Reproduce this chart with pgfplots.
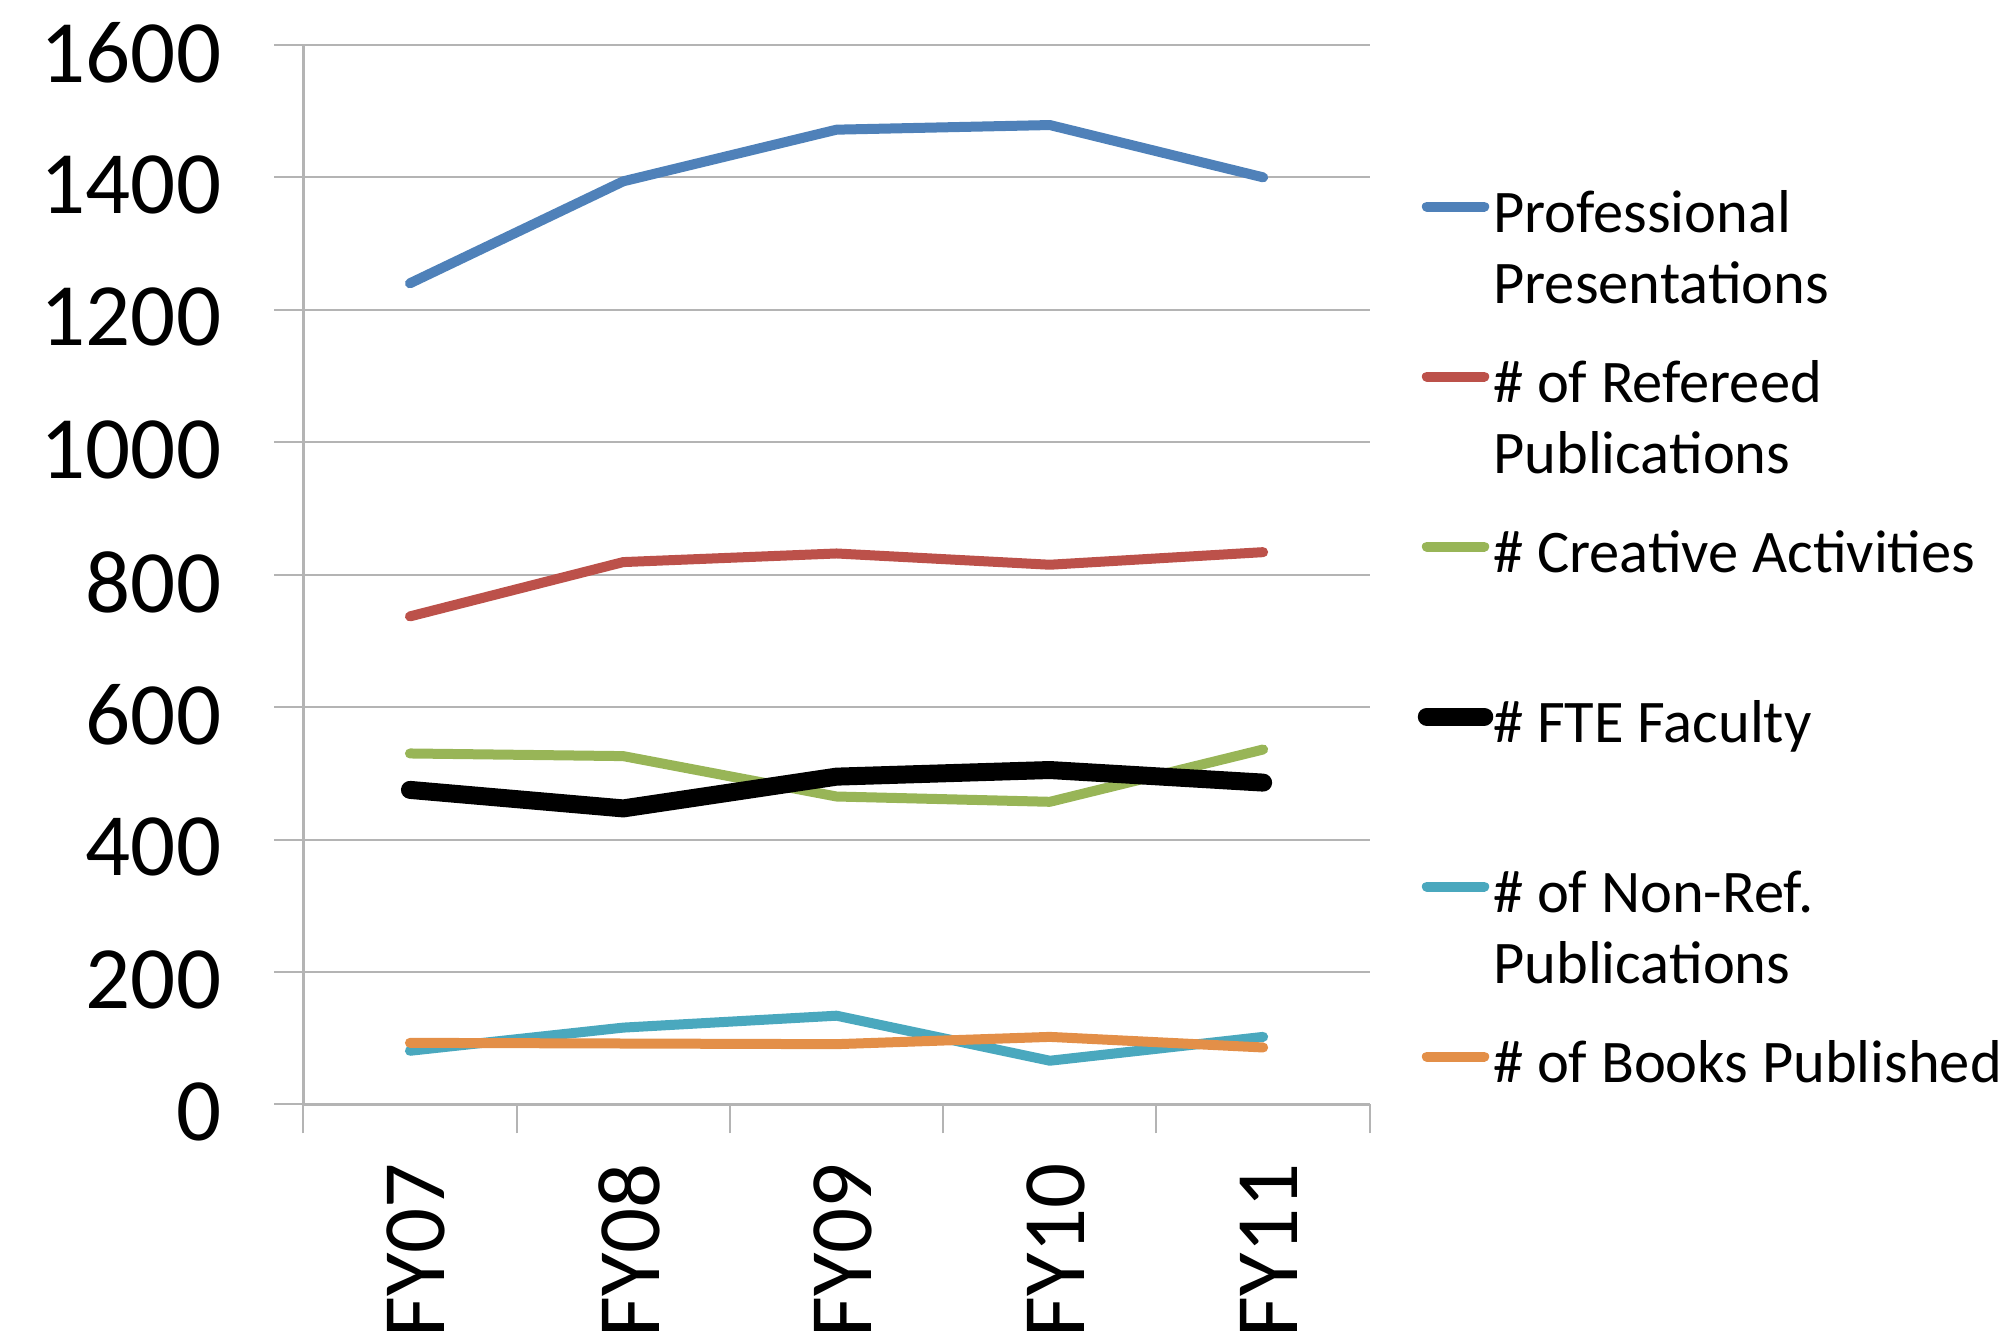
\documentclass[border=0pt]{standalone}
\usepackage{fontspec}
\setmainfont{Carlito}
\usepackage{pgfplots}
\pgfplotsset{compat=1.18}

\definecolor{cBlue}{HTML}{4F81B9}
\definecolor{cRed}{HTML}{BC514A}
\definecolor{cGreen}{HTML}{98B557}
\definecolor{cCyan}{HTML}{4AA8BE}
\definecolor{cOrange}{HTML}{E38F48}
\definecolor{gridgray}{HTML}{B4B4B4}

\begin{document}
\begin{tikzpicture}
\begin{axis}[
    at={(0,0)}, anchor=south west,
    scale only axis,
    width=213.3pt, height=211.9pt,
    xmin=0.5, xmax=5.5,
    ymin=0, ymax=1600,
    axis lines*=left,
    axis line style={draw=gridgray, line width=0.5pt},
    tick align=outside,
    major tick length=5.8pt,
    tick style={draw=gridgray, line width=0.4pt},
    ytick={0,200,...,1600},
    ymajorgrids=true,
    major grid style={draw=gridgray, line width=0.4pt},
    xtick={0.5,1.5,...,5.5},
    xticklabels={,,,,,},
    extra x ticks={1,2,3,4,5},
    extra x tick labels={FY07,FY08,FY09,FY10,FY11},
    extra x tick style={major tick length=0pt},
    ticklabel style={font=\fontsize{17.8}{20}\selectfont},
    xticklabel style={xshift=1.2pt, yshift=-8.2pt, rotate=90, anchor=east},
    yticklabel style={xshift=-7.1pt, yshift=-1.5pt},
    legend style={
      at={(1.045,0.880)}, anchor=north west,
      draw=none, fill=none, inner sep=0pt, outer sep=0pt,
      row sep=0pt, column sep=0pt,
      font=\fontsize{12.1}{14.3}\selectfont,
      cells={anchor=base west},
      nodes={inner sep=0pt, text height=12pt, text depth=22pt},
    },
    legend image code/.code={
      \draw[#1, line cap=round] (1pt,5.1pt) -- (12.5pt,5.1pt);
    },
    /pgf/number format/1000 sep={},
    /pgf/number format/assume math mode=true,
  ]
  \addplot[cBlue, line width=2pt, line cap=round, line join=round]
    coordinates {(1,1240) (2,1394) (3,1472) (4,1479) (5,1400)};
  \addlegendentry{\begin{tabular}[t]{@{}l@{}}Professional\\Presentations\end{tabular}}
  \addplot[cRed, line width=2pt, line cap=round, line join=round]
    coordinates {(1,737) (2,819) (3,832) (4,815) (5,834)};
  \addlegendentry{\begin{tabular}[t]{@{}l@{}}\# of Refereed\\Publications\end{tabular}}
  \addplot[cGreen, line width=2pt, line cap=round, line join=round]
    coordinates {(1,530) (2,526) (3,465) (4,457) (5,536)};
  \addlegendentry{\# Creative Activities}
  \addplot[black, line width=3.6pt, line cap=round, line join=round]
    coordinates {(1,475) (2,447) (3,495) (4,505) (5,486)};
  \addlegendentry{\# FTE Faculty}
  \addplot[cCyan, line width=2pt, line cap=round, line join=round]
    coordinates {(1,81) (2,116) (3,134) (4,66) (5,102)};
  \addlegendentry{\begin{tabular}[t]{@{}l@{}}\# of Non-Ref.\\Publications\end{tabular}}
  \addplot[cOrange, line width=2pt, line cap=round, line join=round]
    coordinates {(1,93) (2,92) (3,91) (4,102) (5,86)};
  \addlegendentry{\# of Books Published}
\end{axis}
\pgfresetboundingbox
\path[use as bounding box] (-60.66pt,-47.72pt) rectangle (339.74pt,220.88pt);
\end{tikzpicture}
\end{document}
